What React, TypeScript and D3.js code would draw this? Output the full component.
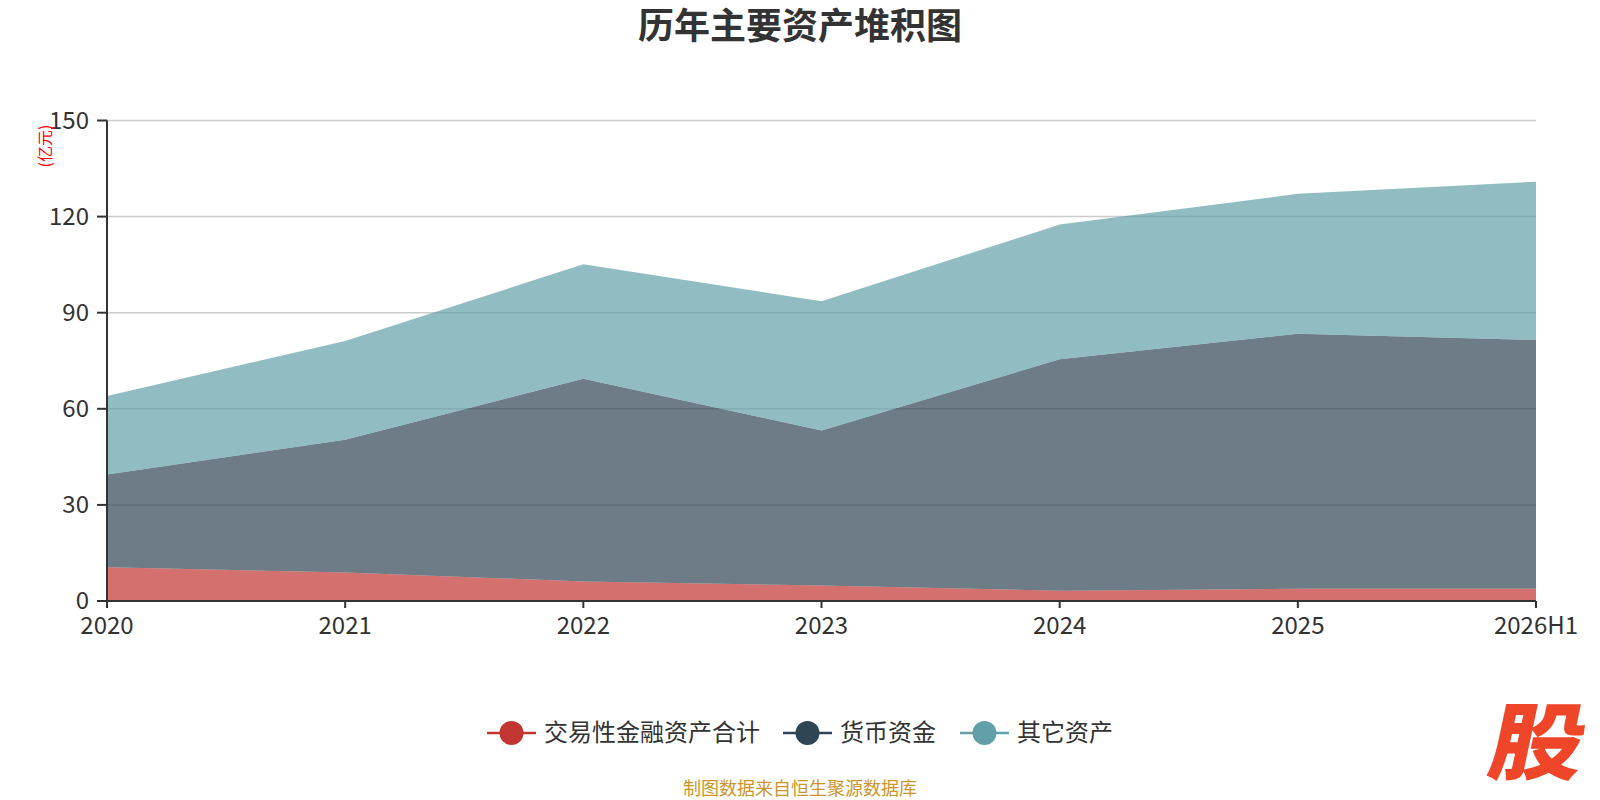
import * as d3 from 'd3';
import React, { FC, useEffect } from 'react';

const categories = ['2020', '2021', '2022', '2023', '2024', '2025', '2026H1'];
const seriesNames = ['交易性金融资产合计', '货币资金', '其它资产'];
const tradingAssets = [10.5, 8.9, 6.1, 4.8, 3.2, 3.8, 3.8];
const monetaryFunds = [29.0, 41.4, 63.3, 48.4, 72.3, 79.6, 77.7];
const otherAssets = [24.5, 30.9, 35.7, 40.4, 42.0, 43.7, 49.4];
const yTicks = [0, 30, 60, 90, 120, 150];

const colors = ['#c23531', '#2f4554', '#61a0a8'];
const font = '"Noto Sans CJK SC", "Noto Sans", sans-serif';

export const StackedAreaD3: FC = () => {
	const containerDiv = React.useRef<HTMLDivElement>(null);
	const { height, width } = { height: 800, width: 1600 };
	const margin = { top: 120.5, right: 64, bottom: 199, left: 107 };

	const initializeChart = () => {
		const rows = categories.map((c, i) => ({
			name: c,
			s0: tradingAssets[i],
			s1: monetaryFunds[i],
			s2: otherAssets[i],
		}));

		const x: any = d3
			.scalePoint()
			.domain(categories)
			.range([margin.left, width - margin.right]);

		const y: any = d3
			.scaleLinear()
			.domain([0, 150])
			.range([height - margin.bottom, margin.top]);

		const stacked = d3.stack().keys(['s0', 's1', 's2'])(rows as any);

		const svg = d3
			.create('svg')
			.attr('width', width)
			.attr('height', height)
			.attr('viewBox', `0, 0, ${width}, ${height}`)
			.style('position', 'absolute')
			.style('left', 0)
			.style('top', 0)
			.style('font-family', font);

		svg.append('rect').attr('width', width).attr('height', height).attr('fill', '#fff');

		// title
		svg.append('text')
			.attr('x', 800)
			.attr('y', 39)
			.attr('text-anchor', 'middle')
			.attr('font-size', 36)
			.attr('font-weight', 'bold')
			.attr('fill', '#333')
			.text('历年主要资产堆积图');

		// split lines
		svg.append('g')
			.selectAll('line')
			.data(yTicks.slice(1))
			.join('line')
			.attr('x1', margin.left)
			.attr('x2', width - margin.right)
			.attr('y1', (d: any) => y(d))
			.attr('y2', (d: any) => y(d))
			.attr('stroke', '#ccc')
			.attr('stroke-width', 1.5);

		const area = d3
			.area<any>()
			.x((d: any) => x(d.data.name))
			.y0((d: any) => y(d[0]))
			.y1((d: any) => y(d[1]));

		svg.append('g')
			.selectAll('path')
			.data(stacked)
			.join('path')
			.attr('d', area as any)
			.attr('fill', (d, i) => colors[i])
			.attr('fill-opacity', 0.7);

		// y axis
		const yAxis = svg.append('g').attr('transform', `translate(${margin.left},0)`);
		yAxis
			.append('line')
			.attr('y1', y(0))
			.attr('y2', y(150))
			.attr('stroke', '#333')
			.attr('stroke-width', 2);
		yAxis
			.selectAll('g.tick')
			.data(yTicks)
			.join('g')
			.attr('class', 'tick')
			.attr('transform', (d: any) => `translate(0,${y(d)})`)
			.call((g: any) =>
				g.append('line').attr('x1', -10).attr('x2', 0).attr('stroke', '#333').attr('stroke-width', 2)
			)
			.call((g: any) =>
				g
					.append('text')
					.attr('x', -18)
					.attr('dy', '0.35em')
					.attr('text-anchor', 'end')
					.attr('font-size', 24)
					.attr('fill', '#333')
					.text((d: any) => d)
			);

		svg.append('text')
			.attr('transform', `translate(45,146) rotate(-90)`)
			.attr('dy', '0.35em')
			.attr('text-anchor', 'middle')
			.attr('font-size', 16)
			.attr('fill', 'red')
			.text('(亿元)');

		// x axis
		const xAxis = svg.append('g').attr('transform', `translate(0,${y(0)})`);
		xAxis
			.append('line')
			.attr('x1', margin.left)
			.attr('x2', width - margin.right)
			.attr('stroke', '#333')
			.attr('stroke-width', 2);
		xAxis
			.selectAll('g.tick')
			.data(categories)
			.join('g')
			.attr('class', 'tick')
			.attr('transform', (d: any) => `translate(${x(d)},0)`)
			.call((g: any) =>
				g.append('line').attr('y1', 0).attr('y2', 7).attr('stroke', '#333').attr('stroke-width', 2)
			)
			.call((g: any) =>
				g
					.append('text')
					.attr('y', 33)
					.attr('text-anchor', 'middle')
					.attr('font-size', 24)
					.attr('fill', '#333')
					.text((d: any) => d)
			);

		// legend
		const legendX = [487, 783, 960];
		const legend = svg
			.append('g')
			.selectAll('g')
			.data(seriesNames)
			.join('g')
			.attr('transform', (d, i) => `translate(${legendX[i]},733)`);
		legend
			.append('line')
			.attr('x1', 0)
			.attr('x2', 49)
			.attr('stroke', (d, i) => colors[i])
			.attr('stroke-width', 2.5);
		legend
			.append('circle')
			.attr('cx', 24.5)
			.attr('r', 12)
			.attr('fill', (d, i) => colors[i]);
		legend
			.append('text')
			.attr('x', 57)
			.attr('dy', '0.35em')
			.attr('font-size', 24)
			.attr('fill', '#333')
			.text((d: any) => d);

		// footer
		svg.append('text')
			.attr('x', 800)
			.attr('y', 795)
			.attr('text-anchor', 'middle')
			.attr('font-size', 18)
			.attr('fill', '#c9972d')
			.text('制图数据来自恒生聚源数据库');

		// logo
		svg.append('text')
			.attr('transform', 'translate(1532,773) skewX(-12) scale(1.12,1)')
			.attr('text-anchor', 'middle')
			.attr('font-size', 84)
			.attr('font-weight', 900)
			.attr('fill', '#ef4629')
			.text('股');

		return svg.node();
	};

	useEffect(() => {
		const chart = initializeChart();
		const container: HTMLDivElement = containerDiv.current as HTMLDivElement;
		if (container && chart) {
			container.firstChild && container.removeChild(container.firstChild);
			container.appendChild(chart);
		}
	}, []);

	return <div ref={containerDiv}></div>;
};

export default function App() {
	return <StackedAreaD3 />;
}
